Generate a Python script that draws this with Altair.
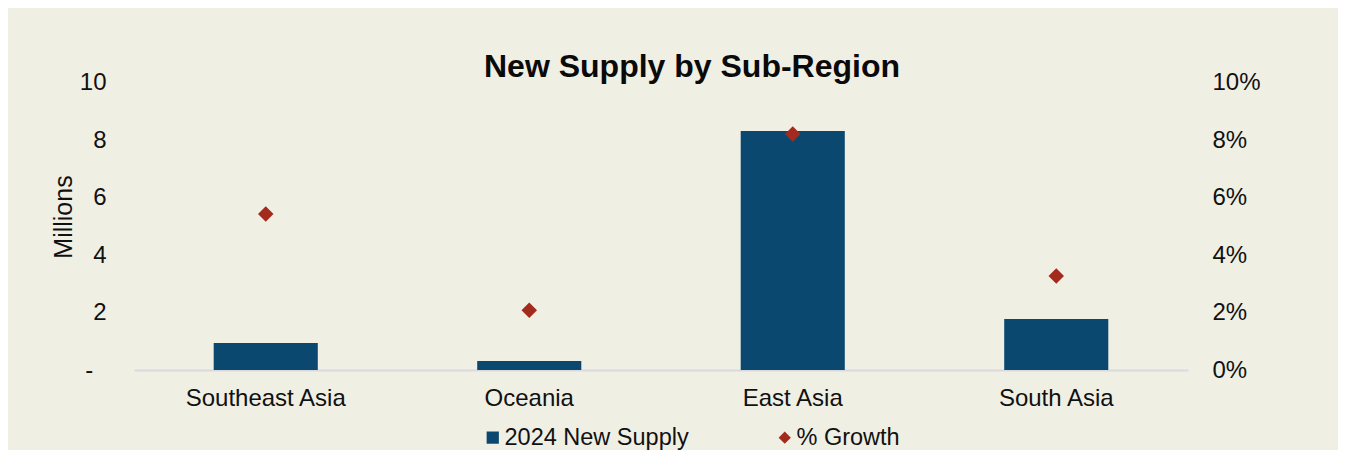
import altair as alt
import pandas as pd

regions = ["Southeast Asia", "Oceania", "East Asia", "South Asia"]
supply_millions = [0.94, 0.31, 8.31, 1.77]
growth_pct = [0.0543, 0.0208, 0.0821, 0.0327]
left_ticks = [0, 2, 4, 6, 8, 10]
right_ticks = [0, 0.02, 0.04, 0.06, 0.08, 0.10]
series_names = ["2024 New Supply", "% Growth"]

BG = "#F0EFE4"
BAR = "#0B4870"
DIAMOND = "#A32B1E"
FONT = "Liberation Sans"
TXT = "#111111"

df = pd.DataFrame({"region": regions, "supply": supply_millions, "growth": growth_pct})

x_enc = alt.X(
    "region:N",
    sort=regions,
    scale=alt.Scale(paddingInner=0.605, paddingOuter=0.3025),
    axis=alt.Axis(
        title=None, labelAngle=0, ticks=False, domainColor="#D9D9DE", domainWidth=2,
        labelPadding=16, labelFontSize=24, labelColor=TXT, labelFont=FONT,
    ),
)

legend_cfg = dict(
    title=None, orient="none", direction="horizontal", columns=2,
    legendX=347, legendY=343, labelFontSize=23.5, labelFont=FONT, labelColor=TXT,
    symbolSize=150, symbolStrokeWidth=0, columnPadding=84, labelOffset=0, padding=0,
    labelLimit=0,
)

color_enc = alt.Color(
    "series:N",
    scale=alt.Scale(domain=series_names, range=[BAR, DIAMOND]),
    legend=alt.Legend(**legend_cfg),
)
shape_enc = alt.Shape(
    "series:N",
    scale=alt.Scale(domain=series_names, range=["square", "diamond"]),
    legend=alt.Legend(**legend_cfg),
)

bars = alt.Chart(df).transform_calculate(series="'2024 New Supply'").mark_bar().encode(
    x=x_enc,
    y=alt.Y(
        "supply:Q",
        scale=alt.Scale(domain=[0, 10], nice=False),
        axis=alt.Axis(
            title="Millions", values=left_ticks, grid=False, domain=False, ticks=False,
            labelPadding=28, labelFontSize=24, labelFont=FONT, labelColor=TXT,
            labelExpr="datum.value == 0 ? '-\u00a0\u00a0\u200b' : datum.label",
            titleFontSize=25, titleFont=FONT, titleFontWeight="normal", titleColor=TXT,
            titleX=-58, titleY=134,
        ),
    ),
    color=color_enc,
    shape=shape_enc,
)

points = alt.Chart(df).transform_calculate(series="'% Growth'").mark_point(
    filled=True, size=240, opacity=1
).encode(
    x=x_enc,
    y=alt.Y(
        "growth:Q",
        scale=alt.Scale(domain=[0, 0.10], nice=False),
        axis=alt.Axis(
            title=None, orient="right", values=right_ticks, format=".0%", grid=False,
            domain=False, ticks=False, labelPadding=24, labelFontSize=24, labelFont=FONT,
            labelColor=TXT,
        ),
    ),
    color=color_enc,
    shape=shape_enc,
)

chart = (
    alt.layer(bars, points)
    .resolve_scale(y="independent")
    .properties(
        width=1054,
        height=287.5,
        autosize=alt.AutoSizeParams(type="none"),
        padding={"left": 126, "top": 74.5, "right": 150, "bottom": 80},
        title=alt.TitleParams(
            "New Supply by Sub-Region", fontSize=32, font=FONT, fontWeight="bold",
            color="#0A0A0A", anchor="middle", dx=31, dy=32, baseline="alphabetic", offset=-6,
        ),
        background=BG,
    )
    .configure_view(stroke=None)
)

chart.save("out.html", embed_options={"renderer": "svg", "actions": False})
